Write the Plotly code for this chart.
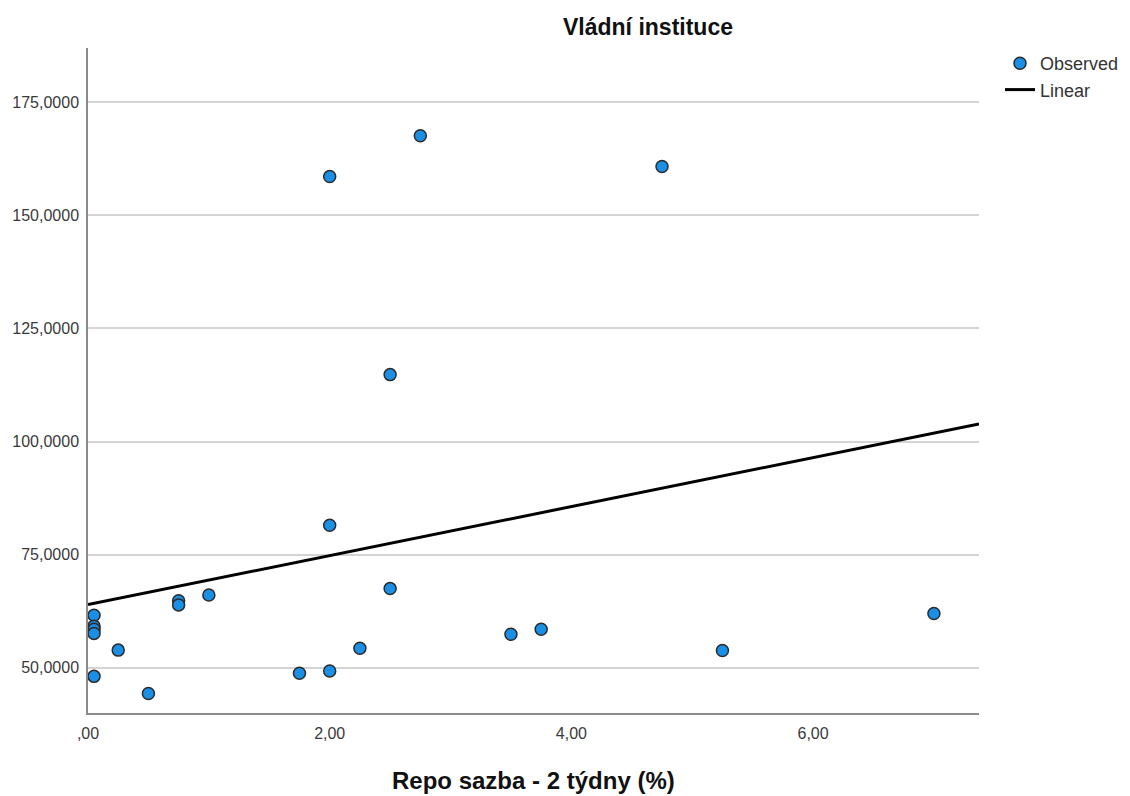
import plotly.graph_objects as go

# Observed data (x: Repo sazba - 2 týdny (%), y: Vládní instituce)
repo_x = [0.05, 0.05, 0.05, 0.05, 0.05, 0.25, 0.5, 0.75, 0.75, 1.0,
          1.75, 2.0, 2.0, 2.0, 2.25, 2.5, 2.5, 2.75, 3.5, 3.75,
          4.75, 5.25, 7.0]
vladni_y = [61.6, 59.2, 58.5, 57.6, 48.1, 53.9, 44.3, 64.8, 63.9, 66.1,
            48.8, 158.6, 81.5, 49.3, 54.3, 114.8, 67.5, 167.6, 57.4, 58.5,
            160.8, 53.8, 62.0]

# Linear fit coefficients
fit_intercept = 63.95
fit_slope = 5.42

x_range = [0.0, 7.373]
y_range = [40.0, 187.0]

x_tickvals = [0, 2, 4, 6]
x_ticktext = [",00", "2,00", "4,00", "6,00"]
y_tickvals = [50, 75, 100, 125, 150, 175]
y_ticktext = ["50,0000", "75,0000", "100,0000", "125,0000", "150,0000", "175,0000"]

title_text = "Vládní instituce"
x_title = "Repo sazba - 2 týdny (%)"

FONT = "Liberation Sans, Arial, sans-serif"

fig = go.Figure()
fig.add_trace(go.Scatter(
    x=repo_x, y=vladni_y, mode="markers", name="Observed",
    marker=dict(size=12, color="#1a8fe6", line=dict(color="#2b2b2b", width=1.5)),
))
line_x = [x_range[0], x_range[1]]
line_y = [fit_intercept + fit_slope * v for v in line_x]
fig.add_trace(go.Scatter(
    x=line_x, y=line_y, mode="lines", name="Linear",
    line=dict(color="#000000", width=3),
))

L, R, T, B = 88, 151, 48, 83
W, H = 1130, 796
pw = W - L - R
ph = H - T - B

fig.update_layout(
    width=W, height=H,
    margin=dict(l=L, r=R, t=T, b=B, autoexpand=False),
    paper_bgcolor="white", plot_bgcolor="white",
    font=dict(family=FONT, size=16, color="#3a3a3a"),
    showlegend=True,
    legend=dict(
        x=(1000 - L) / pw, y=1 - (45 - T) / ph, xanchor="left", yanchor="top",
        font=dict(family=FONT, size=18, color="#333333"),
        bgcolor="rgba(0,0,0,0)", borderwidth=0, tracegroupgap=0,
    ),
    xaxis=dict(
        range=x_range, tickvals=x_tickvals, ticktext=x_ticktext,
        showgrid=False, zeroline=False, showline=True,
        linecolor="#8a8a8a", linewidth=1.5, ticks="",
        ticklabelstandoff=5,
        tickfont=dict(family=FONT, size=16, color="#3a3a3a"),
    ),
    yaxis=dict(
        range=y_range, tickvals=y_tickvals, ticktext=y_ticktext,
        showgrid=True, gridcolor="#d4d4d4", gridwidth=1.6,
        zeroline=False, showline=True,
        linecolor="#8a8a8a", linewidth=1.5, ticks="",
        ticklabelstandoff=4,
        tickfont=dict(family=FONT, size=16, color="#3a3a3a"),
    ),
    annotations=[
        dict(text=title_text, xref="paper", yref="paper",
             x=(648 - L) / pw, y=1 + (T - 27) / ph, xanchor="center", yanchor="middle",
             showarrow=False, font=dict(family=FONT, size=23, color="#111111", weight="bold")),
        dict(text=x_title, xref="paper", yref="paper",
             x=(533 - L) / pw, y=-(780 - (T + ph)) / ph, xanchor="center", yanchor="middle",
             showarrow=False, font=dict(family=FONT, size=24, color="#111111", weight="bold")),
    ],
)

fig.write_html("out.html")
